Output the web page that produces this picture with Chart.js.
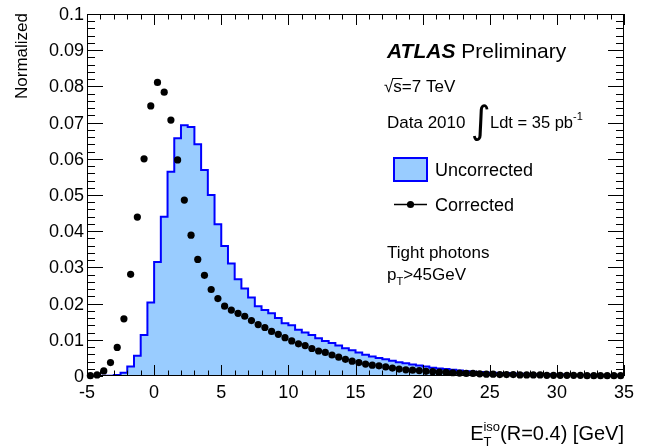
<!DOCTYPE html>
<html>
<head>
<meta charset="utf-8">
<script src="https://cdn.jsdelivr.net/npm/chart.js@4/dist/chart.umd.min.js"></script>
<style>
  html, body { margin: 0; padding: 0; background: #ffffff; }
  canvas { display: block; }
</style>
</head>
<body>
<canvas id="chart" width="651" height="447"></canvas>
<script>
// Isolation energy E_T^iso (R=0.4), bins of 0.5 GeV: low edges of each bin
const binLowEdges = [
  -5, -4.5, -4, -3.5, -3, -2.5, -2, -1.5, -1, -0.5,
  0, 0.5, 1, 1.5, 2, 2.5, 3, 3.5, 4, 4.5,
  5, 5.5, 6, 6.5, 7, 7.5, 8, 8.5, 9, 9.5,
  10, 10.5, 11, 11.5, 12, 12.5, 13, 13.5, 14, 14.5,
  15, 15.5, 16, 16.5, 17, 17.5, 18, 18.5, 19, 19.5,
  20, 20.5, 21, 21.5, 22, 22.5, 23, 23.5, 24, 24.5,
  25, 25.5, 26, 26.5, 27, 27.5, 28, 28.5, 29, 29.5,
  30, 30.5, 31, 31.5, 32, 32.5, 33, 33.5, 34, 34.5
];
const binWidth = 0.5;

// Uncorrected distribution (normalized), one value per bin
const uncorrected = [
  0, 0, 0, 0.0001, 0.0001, 0.0003, 0.0009, 0.0026, 0.0056, 0.0113,
  0.0203, 0.0315, 0.0440, 0.0564, 0.0657, 0.0693, 0.0688, 0.0640, 0.0569, 0.0500,
  0.0419, 0.0359, 0.0311, 0.0267, 0.0242, 0.0217, 0.0193, 0.0182, 0.0173, 0.0160,
  0.0146, 0.0140, 0.0128, 0.0120, 0.0113, 0.0104, 0.0097, 0.0091, 0.0084, 0.0077,
  0.0071, 0.0065, 0.0059, 0.0054, 0.0050, 0.0046, 0.0042, 0.0038, 0.0035, 0.0032,
  0.0029, 0.0026, 0.0023, 0.0021, 0.0019, 0.0017, 0.0015, 0.0013, 0.0012, 0.0011,
  0.0010, 0.0009, 0.0008, 0.0008, 0.0007, 0.0006, 0.0006, 0.0005, 0.0005, 0.0005,
  0.0004, 0.0004, 0.0004, 0.0003, 0.0003, 0.0003, 0.0003, 0.0003, 0.0002, 0.0002
];

// Corrected distribution (normalized), drawn at bin centres
const corrected = [
  0.0001, 0.0003, 0.0014, 0.0037, 0.0079, 0.0158, 0.0281, 0.0439, 0.0600, 0.0746,
  0.0811, 0.0784, 0.0707, 0.0597, 0.0486, 0.0389, 0.0322, 0.0278, 0.0239, 0.0214,
  0.0193, 0.0182, 0.0173, 0.0165, 0.0153, 0.0142, 0.0134, 0.0123, 0.0115, 0.0106,
  0.0097, 0.0089, 0.0084, 0.0076, 0.0069, 0.0065, 0.0058, 0.0052, 0.0046, 0.0041,
  0.0037, 0.0033, 0.0030, 0.0028, 0.0025, 0.0022, 0.0019, 0.0017, 0.0016, 0.0015,
  0.0013, 0.0012, 0.0011, 0.0010, 0.0009, 0.0008, 0.0007, 0.0007, 0.0006, 0.0005,
  0.0005, 0.0004, 0.0004, 0.0004, 0.0003, 0.0003, 0.0003, 0.0003, 0.0002, 0.0002,
  0.0002, 0.0002, 0.0002, 0.0002, 0.0001, 0.0001, 0.0001, 0.0001, 0.0001, 0.0001
];

// Axis tick values and labels
const xTickValues = [-5, 0, 5, 10, 15, 20, 25, 30, 35];
const xTickLabels = ['-5', '0', '5', '10', '15', '20', '25', '30', '35'];
const yTickValues = [0, 0.01, 0.02, 0.03, 0.04, 0.05, 0.06, 0.07, 0.08, 0.09, 0.1];
const yTickLabels = ['0', '0.01', '0.02', '0.03', '0.04', '0.05', '0.06', '0.07', '0.08', '0.09', '0.1'];
const xMinorStep = 1;
const yMinorStep = 0.002;

const FONT = '"Liberation Sans", Arial, Helvetica, sans-serif';
const HIST_LINE = 'rgb(0,0,255)';
const HIST_FILL = 'rgb(153,204,255)';

// Stepped outline: each bin keeps its value up to the next edge
const histPoints = binLowEdges.map((e, i) => ({ x: e, y: uncorrected[i] }));
histPoints.push({ x: binLowEdges[binLowEdges.length - 1] + binWidth, y: uncorrected[uncorrected.length - 1] });

const dotPoints = binLowEdges.map((e, i) => ({ x: e + binWidth / 2, y: corrected[i] }));

function drawRich(ctx, parts, x, y, align) {
  // parts: [{t, size, dy, gap, bold, italic}]
  let total = 0;
  const widths = parts.map(p => {
    ctx.font = `${p.italic ? 'italic ' : ''}${p.bold ? 'bold ' : ''}${p.size}px ${FONT}`;
    const w = ctx.measureText(p.t).width + (p.gap || 0);
    total += w;
    return w;
  });
  let cx = align === 'right' ? x - total : x;
  ctx.textAlign = 'left';
  ctx.textBaseline = 'alphabetic';
  parts.forEach((p, i) => {
    ctx.font = `${p.italic ? 'italic ' : ''}${p.bold ? 'bold ' : ''}${p.size}px ${FONT}`;
    ctx.fillText(p.t, cx, y + (p.dy || 0));
    cx += widths[i];
  });
  return cx;
}

// Frame, inward ticks and tick labels, drawn right after the histogram
const framePlugin = {
  id: 'rootFrame',
  afterDatasetDraw(chart, args) {
    if (args.index !== 1) return;
    const { ctx, chartArea: a, scales: { x, y } } = chart;
    ctx.save();
    ctx.strokeStyle = '#000';
    ctx.lineWidth = 1;
    ctx.strokeRect(Math.round(a.left) + 0.5, Math.round(a.top) + 0.5,
                   Math.round(a.right - a.left) - 1, Math.round(a.bottom - a.top) - 1);
    ctx.beginPath();
    // x ticks (bottom and top)
    for (let v = x.min; v <= x.max + 1e-9; v += xMinorStep) {
      const px = Math.round(x.getPixelForValue(v)) + 0.5;
      const major = xTickValues.some(t => Math.abs(t - v) < 1e-9);
      const len = major ? 11 : 5.5;
      ctx.moveTo(px, a.bottom); ctx.lineTo(px, a.bottom - len);
      ctx.moveTo(px, a.top); ctx.lineTo(px, a.top + len);
    }
    // y ticks (left and right)
    for (let k = 0; k * yMinorStep <= y.max + 1e-9; k++) {
      const v = k * yMinorStep;
      const py = Math.round(y.getPixelForValue(v)) + 0.5;
      const major = yTickValues.some(t => Math.abs(t - v) < 1e-9);
      const len = major ? 16 : 8;
      ctx.moveTo(a.left, py); ctx.lineTo(a.left + len, py);
      ctx.moveTo(a.right, py); ctx.lineTo(a.right - len, py);
    }
    ctx.stroke();

    ctx.fillStyle = '#000';
    ctx.font = `18px ${FONT}`;
    ctx.textAlign = 'center';
    ctx.textBaseline = 'alphabetic';
    xTickValues.forEach((v, i) => ctx.fillText(xTickLabels[i], x.getPixelForValue(v), a.bottom + 22));
    ctx.textAlign = 'right';
    ctx.textBaseline = 'middle';
    yTickValues.forEach((v, i) => ctx.fillText(yTickLabels[i], a.left - 3, y.getPixelForValue(v) + 1));
    ctx.restore();
  },
  afterDraw(chart) {
    const { ctx, chartArea: a } = chart;
    ctx.save();
    ctx.fillStyle = '#000';

    // axis titles
    drawRich(ctx, [
      { t: 'E', size: 20 },
      { t: 'T', size: 13, dy: 6, gap: -8 },
      { t: 'iso', size: 13, dy: -9 },
      { t: '(R=0.4) [GeV]', size: 20 }
    ], a.right, 440, 'right');

    ctx.save();
    ctx.translate(27, 13);
    ctx.rotate(-Math.PI / 2);
    ctx.font = `17px ${FONT}`;
    ctx.textAlign = 'right';
    ctx.textBaseline = 'alphabetic';
    ctx.fillText('Normalized', 0, 0);
    ctx.restore();

    // labels block
    const lx = 387;
    drawRich(ctx, [
      { t: 'ATLAS', size: 21, bold: true, italic: true },
      { t: ' Preliminary', size: 21 }
    ], lx, 58, 'left');

    ctx.font = `17px ${FONT}`;
    ctx.textAlign = 'left';
    ctx.textBaseline = 'alphabetic';
    const rootW = ctx.measureText('√').width;
    ctx.fillText('√', 384, 92);
    const sW = ctx.measureText('s').width;
    ctx.fillText('s=7 TeV', 384 + rootW, 92);
    ctx.beginPath();
    ctx.lineWidth = 1;
    ctx.moveTo(384 + rootW - 1, 78.5);
    ctx.lineTo(384 + rootW + sW + 0.5, 78.5);
    ctx.stroke();

    drawRich(ctx, [{ t: 'Data 2010', size: 17 }], lx, 128, 'left');
    ctx.font = `38px "DejaVu Sans", sans-serif`;
    ctx.fillText('∫', 471, 133);
    drawRich(ctx, [
      { t: 'Ldt = 35 pb', size: 16.5 },
      { t: '-1', size: 11, dy: -8 }
    ], 490, 128, 'left');

    // legend
    ctx.fillStyle = HIST_FILL;
    ctx.fillRect(393, 157, 35, 25);
    ctx.strokeStyle = HIST_LINE;
    ctx.lineWidth = 2;
    ctx.strokeRect(394, 158, 33, 23);
    ctx.fillStyle = '#000';
    drawRich(ctx, [{ t: 'Uncorrected', size: 18 }], 435, 176, 'left');

    ctx.strokeStyle = '#000';
    ctx.lineWidth = 1.5;
    ctx.beginPath();
    ctx.moveTo(394, 204.5);
    ctx.lineTo(427, 204.5);
    ctx.stroke();
    ctx.beginPath();
    ctx.arc(410.5, 204.5, 3.6, 0, Math.PI * 2);
    ctx.fill();
    drawRich(ctx, [{ t: 'Corrected', size: 18 }], 435, 211, 'left');

    drawRich(ctx, [{ t: 'Tight photons', size: 17 }], lx, 258, 'left');
    drawRich(ctx, [
      { t: 'p', size: 17 },
      { t: 'T', size: 11, dy: 5 },
      { t: '>45GeV', size: 17 }
    ], lx, 280, 'left');

    ctx.restore();
  }
};

new Chart(document.getElementById('chart'), {
  type: 'line',
  data: {
    datasets: [
      {
        label: 'Corrected',
        data: dotPoints,
        showLine: false,
        pointRadius: 3.6,
        pointHoverRadius: 3.6,
        pointBackgroundColor: '#000',
        pointBorderWidth: 0,
        borderColor: '#000',
        clip: false,
        order: 0
      },
      {
        label: 'Uncorrected',
        data: histPoints,
        stepped: 'after',
        fill: 'origin',
        backgroundColor: HIST_FILL,
        borderColor: HIST_LINE,
        borderWidth: 2,
        pointRadius: 0,
        order: 1
      }
    ]
  },
  options: {
    responsive: false,
    animation: false,
    events: [],
    layout: { padding: { left: 87, right: 27, top: 14, bottom: 71 } },
    plugins: { legend: { display: false }, tooltip: { enabled: false } },
    scales: {
      x: { type: 'linear', min: -5, max: 35, display: false },
      y: { type: 'linear', min: 0, max: 0.1, display: false }
    }
  },
  plugins: [framePlugin]
});
</script>
</body>
</html>
